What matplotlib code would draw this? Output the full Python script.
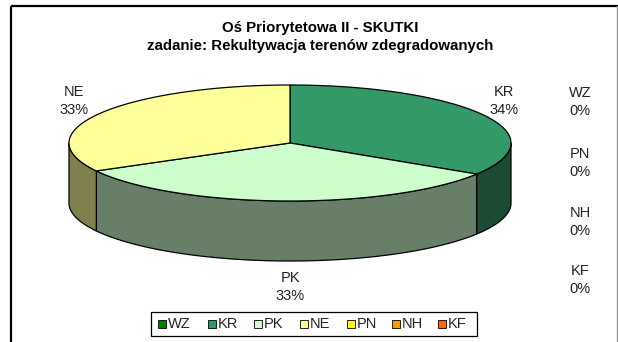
import numpy as np
import matplotlib
matplotlib.use("Agg")
import matplotlib.pyplot as plt
from matplotlib.patches import Polygon, Rectangle

plt.rcParams['font.family'] = ['Liberation Sans', 'DejaVu Sans']

# slice data, in the order Excel lays them out (clockwise from 12 o'clock)
labels = ['WZ', 'KR', 'PK', 'NE', 'PN', 'NH', 'KF']
values = [0, 34, 33, 33, 0, 0, 0]
top_colors = ['#008000', '#339966', '#ccffcc', '#ffff99', '#ffff00', '#ff9900', '#ff6600']
side_colors = ['#004000', '#1a4c33', '#667f66', '#7f7f4c', '#808000', '#804c00', '#803300']

title_lines = ['Oś Priorytetowa II - SKUTKI',
               'zadanie: Rekultywacja terenów zdegradowanych']

fig = plt.figure(figsize=(6.18, 3.42), dpi=100)
ax = fig.add_axes([0, 0, 1, 1])
ax.set_xlim(0, 618)
ax.set_ylim(342, 0)
ax.axis('off')

# chart frame
ax.plot([11, 11], [342, 6], color='black', lw=1.6, solid_capstyle='butt')
ax.plot([11, 618], [6, 6], color='black', lw=1.6, solid_capstyle='butt')
ax.plot([616.5, 616.5], [6, 342], color='#999999', lw=1.0)

# pie geometry (pixels)
cx, cy, rx, ry, depth = 290, 143, 221, 58, 60


def rim(t):
    return cx + rx * np.cos(t), cy - ry * np.sin(t)


total = float(sum(values))
start = np.pi / 2
spans = []
for v in values:
    sweep = 2 * np.pi * v / total
    spans.append((start - sweep, start))
    start -= sweep

# side walls: only the front half (sin < 0) is visible
for (a0, a1), sc, v in zip(spans, side_colors, values):
    if v == 0:
        continue
    a0n = a0 % (2 * np.pi)
    a1n = a0n + (a1 - a0)
    lo, hi = max(a0n, np.pi), min(a1n, 2 * np.pi)
    if hi <= lo:
        continue
    t = np.linspace(lo, hi, 80)
    x, y = rim(t)
    pts = np.column_stack([np.r_[x, x[::-1]], np.r_[y, (y + depth)[::-1]]])
    ax.add_patch(Polygon(pts, closed=True, facecolor=sc, edgecolor='black', lw=0.9, zorder=2))

# top faces
for (a0, a1), tc, v in zip(spans, top_colors, values):
    if v == 0:
        continue
    t = np.linspace(a0, a1, 120)
    x, y = rim(t)
    pts = np.column_stack([np.r_[cx, x], np.r_[cy, y]])
    ax.add_patch(Polygon(pts, closed=True, facecolor=tc, edgecolor='black', lw=0.9, zorder=3))

# data labels
label_pos = {'KR': (504, 101), 'PK': (290, 287), 'NE': (74, 101),
             'WZ': (580, 102), 'PN': (580, 163), 'NH': (580, 222), 'KF': (580, 280)}
for lab, v in zip(labels, values):
    pct = round(100 * v / total)
    x, y = label_pos[lab]
    ax.text(x, y, f'{lab}\n{pct}%', ha='center', va='center', fontsize=10.5,
            color='#222222', linespacing=1.3, zorder=4)

for y, line in zip([28, 46], title_lines):
    ax.text(320, y, line, ha='center', va='center', fontsize=10.8, fontweight='bold', zorder=4)

# legend
ax.add_patch(Rectangle((151, 312), 326, 24, facecolor='white', edgecolor='black', lw=0.9, zorder=4))
leg_x = [158, 208, 254, 300, 347, 392, 438]
for lx, lab, tc in zip(leg_x, labels, top_colors):
    ax.add_patch(Rectangle((lx, 320), 8, 8, facecolor=tc, edgecolor='black', lw=0.6, zorder=5))
    ax.text(lx + 10, 324.5, lab, ha='left', va='center', fontsize=10.5, color='#222222', zorder=5)

fig.savefig('out.png', dpi=100)
